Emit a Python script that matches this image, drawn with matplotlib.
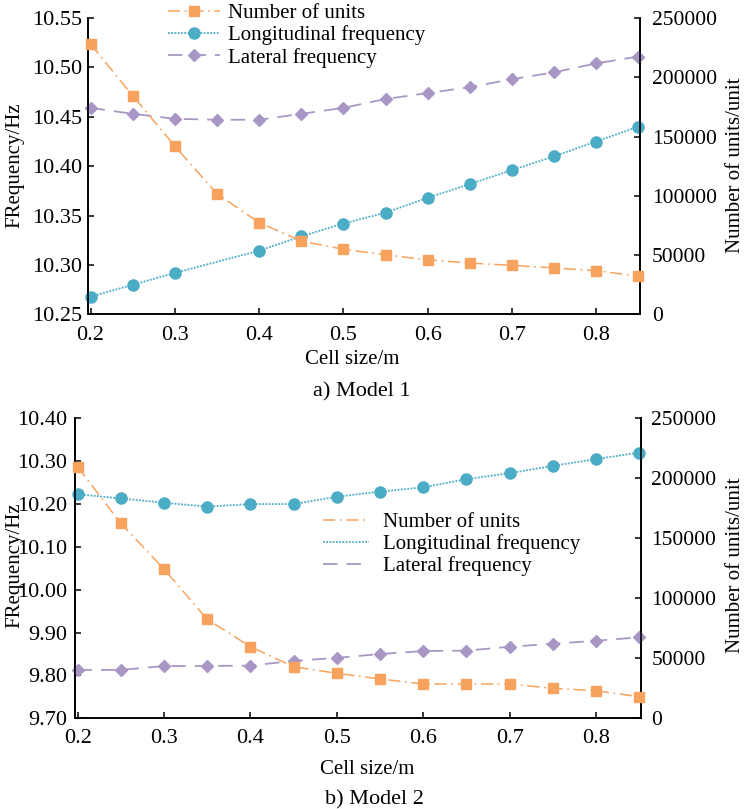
import matplotlib
matplotlib.use("Agg")
import matplotlib.pyplot as plt
from matplotlib.ticker import FormatStrFormatter, MultipleLocator

plt.rcParams['font.family'] = ['Liberation Serif', 'DejaVu Serif']

# model 1
cell_a = [0.2, 0.25, 0.3, 0.35, 0.4, 0.45, 0.5, 0.55, 0.6, 0.65, 0.7, 0.75, 0.8, 0.85]
units_a = [228000, 184500, 142000, 101700, 77500, 61900, 55000, 50300, 46100,
           43300, 41400, 39200, 36900, 32300]
cell_long_a = [0.2, 0.25, 0.3, 0.4, 0.45, 0.5, 0.55, 0.6, 0.65, 0.7, 0.75, 0.8, 0.85]
long_a = [10.268, 10.280, 10.292, 10.3145, 10.329, 10.342, 10.353, 10.368,
          10.382, 10.396, 10.410, 10.425, 10.440]
lat_a = [10.459, 10.453, 10.448, 10.447, 10.447, 10.453, 10.459, 10.468,
         10.474, 10.480, 10.488, 10.495, 10.504, 10.511]

# model 2
cell_b = [0.2, 0.25, 0.3, 0.35, 0.4, 0.45, 0.5, 0.55, 0.6, 0.65, 0.7, 0.75, 0.8, 0.85]
units_b = [209700, 162500, 124400, 82500, 59700, 43000, 37500, 32800, 28600,
           28600, 28600, 25000, 23000, 18000]
long_b = [10.223, 10.213, 10.203, 10.194, 10.200, 10.200, 10.217, 10.229,
          10.239, 10.258, 10.272, 10.289, 10.305, 10.320]
lat_b = [9.813, 9.813, 9.822, 9.822, 9.823, 9.834, 9.841, 9.850, 9.857,
         9.858, 9.867, 9.874, 9.881, 9.889]

ORANGE = '#F7A35E'
BLUE = '#4BACC6'
PURPLE = '#A897C5'

fig = plt.figure(figsize=(7.49, 8.09), dpi=100)


def panel(rect, cells, units, cells_long, longf, latf, ylim, ystep, lpad, rpad):
    ax = fig.add_axes(rect)
    ax2 = ax.twinx()
    l1, = ax2.plot(cells, units, color=ORANGE, lw=1.1, dashes=[8, 3, 1.2, 3],
                   marker='s', ms=7.5, mec=ORANGE, mfc=ORANGE, clip_on=False, zorder=3)
    l2, = ax.plot(cells_long, longf, color=BLUE, lw=1.3, dashes=[1, 0.8],
                  marker='o', ms=8, mec=BLUE, mfc=BLUE, clip_on=False, zorder=3)
    l3, = ax.plot(cells, latf, color=PURPLE, lw=1.3, dashes=[8, 5],
                  marker='D', ms=6.5, mec=PURPLE, mfc=PURPLE, clip_on=False, zorder=3)
    ax.set_xlim(0.197, 0.852)
    ax.set_ylim(*ylim)
    ax.yaxis.set_major_locator(MultipleLocator(ystep))
    ax.yaxis.set_major_formatter(FormatStrFormatter('%.2f'))
    ax.set_xticks([0.2, 0.3, 0.4, 0.5, 0.6, 0.7, 0.8])
    ax.set_xticklabels(['0.2', '0.3', '0.4', '0.5', '0.6', '0.7', '0.8'])
    ax2.set_ylim(0, 250000)
    ax2.set_yticks([0, 50000, 100000, 150000, 200000, 250000])
    ax2.set_yticklabels(['0', '50000', '100000', '150000', '200000', '250000'])
    for a in (ax, ax2):
        a.spines['top'].set_visible(False)
        for s in ('left', 'right', 'bottom'):
            a.spines[s].set_linewidth(1.2)
        a.tick_params(direction='in', length=4, width=1.1)
    ax.tick_params(axis='y', labelsize=16, pad=lpad)
    ax.tick_params(axis='x', labelsize=16, pad=8)
    ax2.tick_params(axis='y', labelsize=15.5, pad=rpad)
    return ax, ax2, [l1, l2, l3]


labels = ['Number of units', 'Longitudinal frequency', 'Lateral frequency']

ax, ax2, lines = panel([0.1175, 0.6113, 0.737, 0.3665], cell_a, units_a,
                       cell_long_a, long_a, lat_a, (10.25, 10.55), 0.05, 4, 8.5)
ax2.legend(lines, labels, loc='upper left', bbox_to_anchor=(0.224, 0.996),
           bbox_transform=fig.transFigure, frameon=False, fontsize=15,
           borderpad=0, borderaxespad=0, handlelength=2.5, handletextpad=0.4,
           labelspacing=0.12)

bx, bx2, blines = panel([0.1001, 0.1121, 0.7557, 0.3708], cell_b, units_b,
                        cell_b, long_b, lat_b, (9.70, 10.40), 0.10, 5.5, 7.5)
handles = [plt.Line2D([], [], color=l.get_color(), lw=l.get_linewidth(),
                      dashes=d) for l, d in zip(blines, [[8, 3, 1.2, 3], [1, 0.8], [8, 5]])]
bx2.legend(handles, labels, loc='upper left', bbox_to_anchor=(0.431, 0.366),
           bbox_transform=fig.transFigure, frameon=False, fontsize=15,
           borderpad=0, borderaxespad=0, handlelength=2.2, handletextpad=0.7,
           labelspacing=0.1)

# axis titles and captions
fig.text(0.020, 1 - 165 / 809, 'FRequency/Hz', rotation=90, fontsize=15,
         ha='center', va='center')
fig.text(0.982, 1 - 165 / 809, 'Number of units/unit', rotation=90, fontsize=15,
         ha='center', va='center')
fig.text(0.020, 1 - 565 / 809, 'FRequency/Hz', rotation=90, fontsize=15,
         ha='center', va='center')
fig.text(0.982, 1 - 565 / 809, 'Number of units/unit', rotation=90, fontsize=15,
         ha='center', va='center')
fig.text(352 / 749, 1 - 360 / 809, 'Cell size/m', fontsize=15, ha='center', va='center')
fig.text(362 / 749, 1 - 392 / 809, 'a) Model 1', fontsize=16, ha='center', va='center')
fig.text(367 / 749, 1 - 770 / 809, 'Cell size/m', fontsize=15, ha='center', va='center')
fig.text(374 / 749, 1 - 800 / 809, 'b) Model 2', fontsize=16, ha='center', va='center')

fig.savefig('out.png', dpi=100)
